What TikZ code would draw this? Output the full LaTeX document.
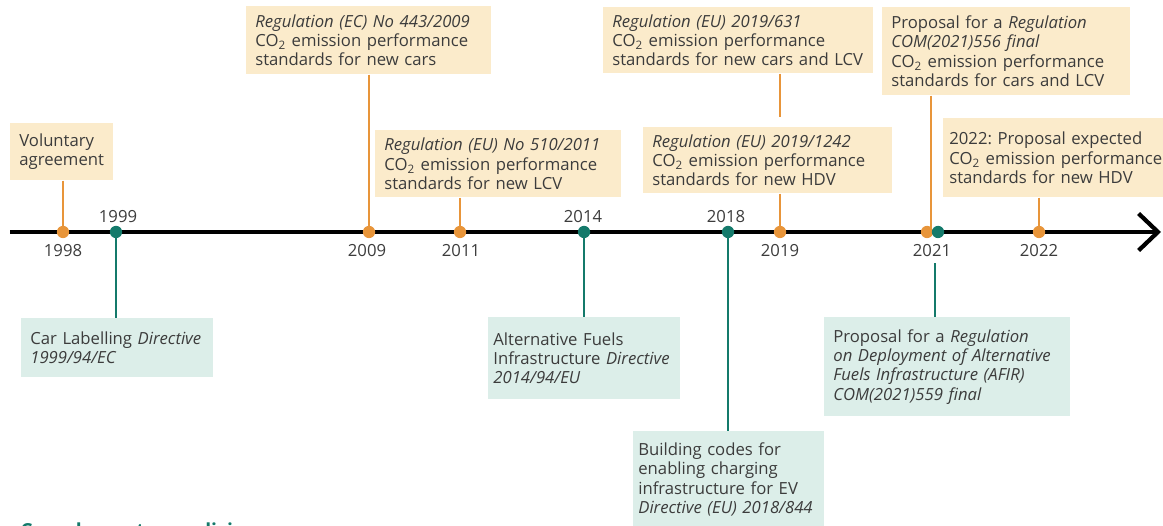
\documentclass[tikz,border=0pt]{standalone}
\usepackage{fontspec}
\setmainfont{Open Sans}
\usetikzlibrary{arrows.meta}
\definecolor{eeaorange}{HTML}{E8953A}
\definecolor{eeateal}{HTML}{147A6B}
\definecolor{orangebox}{HTML}{FBEBCB}
\definecolor{tealbox}{HTML}{DCEEE9}
\definecolor{txtgrey}{HTML}{3C3C3C}
\begin{document}
\begin{tikzpicture}[x=0.02cm, y=-0.02cm,
  every node/.style={font=\fontsize{9.5}{11}\selectfont, text=txtgrey},
  obox/.style={fill=orangebox, anchor=north west, align=left, inner xsep=0.18cm, inner ysep=0pt},
  tbox/.style={fill=tealbox, anchor=north west, align=left, inner xsep=0.18cm, inner ysep=0pt},
  ostem/.style={eeaorange, line width=1.6pt},
  tstem/.style={eeateal, line width=1.6pt},
  odot/.style={circle, fill=eeaorange, inner sep=0pt, minimum size=7pt},
  tdot/.style={circle, fill=eeateal, inner sep=0pt, minimum size=7pt}]
\useasboundingbox (0,0) rectangle (1163,526);

% time axis
\draw[line width=2.8pt, -{Straight Barb[length=11pt, width=21pt, line width=2.4pt]}] (10,232) -- (1161,232);

\coordinate (p1998) at (63,232);
\coordinate (p1999) at (116,232);
\coordinate (p2009) at (369,232);
\coordinate (p2011) at (460,232);
\coordinate (p2014) at (584,232);
\coordinate (p2018) at (728,232);
\coordinate (p2019) at (780,232);
\coordinate (p2021) at (927,232);
\coordinate (q2021) at (938,232);
\coordinate (p2022) at (1039,232);

% years
\node (y1998) at (63,251) {1998};
\node (y1999) at (118,217) {1999};
\node (y2009) at (367,251) {2009};
\node (y2011) at (461,251) {2011};
\node (y2014) at (583,217) {2014};
\node (y2018) at (726,217) {2018};
\node (y2019) at (780,251) {2019};
\node (y2021) at (932,251) {2021};
\node (y2022) at (1039,251) {2022};

% CO2 standards
\node[obox, text width=1.70cm, minimum height=1.14cm] (vol) at (10,123) {Voluntary\\agreement};
\node[obox, text width=4.54cm, minimum height=1.36cm] (r443) at (246,6)
  {\textit{Regulation (EC) No 443/2009}\\CO\textsubscript{2} emission performance\\standards for new cars};
\node[obox, text width=4.56cm, minimum height=1.34cm] (r510) at (375,130)
  {\textit{Regulation (EU) No 510/2011}\\CO\textsubscript{2} emission performance\\standards for new LCV};
\node[obox, text width=5.04cm, minimum height=1.32cm] (r631) at (603,7)
  {\textit{Regulation (EU) 2019/631}\\CO\textsubscript{2} emission performance\\standards for new cars and LCV};
\node[obox, text width=4.62cm, minimum height=1.32cm] (r1242) at (643,127)
  {\textit{Regulation (EU) 2019/1242}\\CO\textsubscript{2} emission performance\\standards for new HDV};
\node[obox, text width=4.60cm, minimum height=1.76cm] (r556) at (882,7)
  {Proposal for a \textit{Regulation}\\\textit{COM(2021)556 final}\\CO\textsubscript{2} emission performance\\standards for cars and LCV};
\node[obox, inner xsep=0.12cm, text width=4.32cm, minimum height=1.58cm] (hdv) at (943,118)
  {2022:\ Proposal expected\\CO\textsubscript{2} emission performance\\standards for new HDV};

% complementary policies
\node[tbox, text width=3.48cm, minimum height=1.18cm] (car) at (21,318)
  {Car Labelling \textit{Directive}\\\textit{1999/94/EC}};
\node[tbox, inner xsep=0.1cm, text width=3.64cm, minimum height=1.64cm] (afi) at (488,317)
  {Alternative Fuels\\Infrastructure \textit{Directive}\\\textit{2014/94/EU}};
\node[tbox, inner xsep=0.1cm, text width=3.62cm, minimum height=1.92cm] (bld) at (633,431)
  {Building codes for\\enabling charging\\infrastructure for EV\\\textit{Directive (EU) 2018/844}};
\node[tbox, text width=4.56cm, minimum height=1.98cm] (afir) at (824,317)
  {Proposal for a \textit{Regulation}\\\textit{on Deployment of Alternative}\\\textit{Fuels Infrastructure (AFIR)}\\\textit{COM(2021)559 final}};

\node[anchor=north west, inner sep=0pt, font=\fontsize{11}{13}\bfseries, text=eeateal] (legend) at (20,522) {Complementary policies};

% stems
\draw[ostem] (vol.south -| p1998) -- (p1998);
\draw[ostem] (r443.south -| p2009) -- (p2009);
\draw[ostem] (r510.south -| p2011) -- (p2011);
\draw[ostem, shorten >=0.2cm] (r631.south -| p2019) -- (r1242.north -| p2019);
\draw[ostem] (r1242.south -| p2019) -- (p2019);
\draw[ostem] (r556.south -| 931,0) -- (931,232);
\draw[ostem] (hdv.south -| p2022) -- (p2022);
\draw[tstem] (p1999) -- (car.north -| p1999);
\draw[tstem] (p2014) -- (afi.north -| p2014);
\draw[tstem] (p2018) -- (bld.north -| p2018);
\draw[tstem] (afir.north -| 935,0) -- (935,0 |- y2021.south);

% dots
\node[odot] (d1998) at (p1998) {};
\node[tdot] (d1999) at (p1999) {};
\node[odot] (d2009) at (p2009) {};
\node[odot] (d2011) at (p2011) {};
\node[tdot] (d2014) at (p2014) {};
\node[tdot] (d2018) at (p2018) {};
\node[odot] (d2019) at (p2019) {};
\node[odot] (d2021) at (p2021) {};
\node[tdot] (e2021) at (q2021) {};
\node[odot] (d2022) at (p2022) {};
\end{tikzpicture}
\end{document}
